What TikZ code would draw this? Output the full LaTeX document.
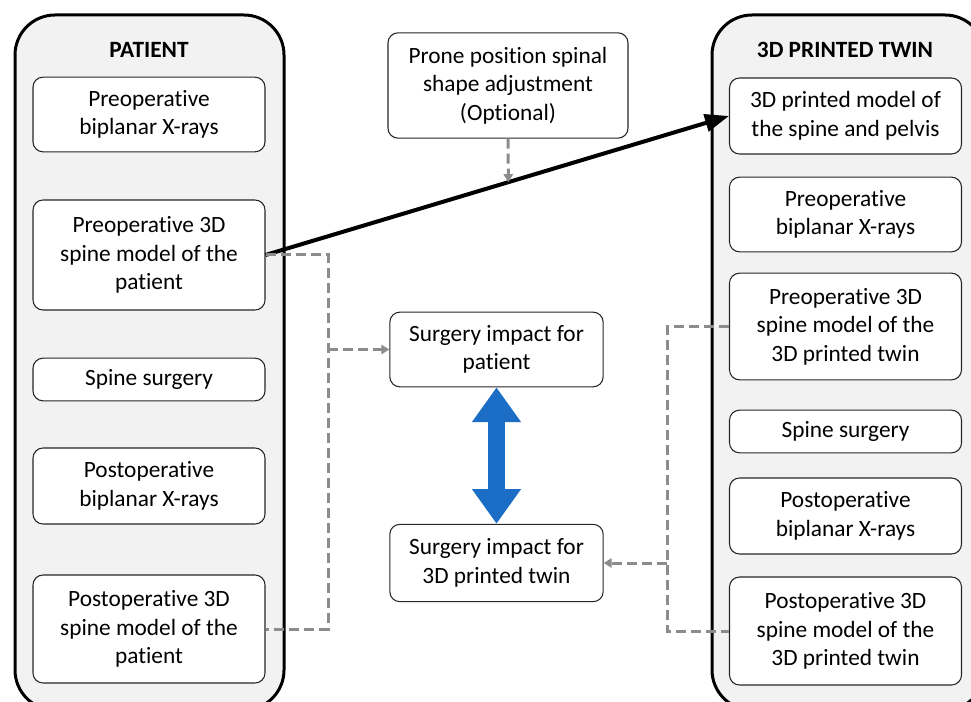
\documentclass[tikz,border=0pt]{standalone}
\usepackage{fontspec}
\setmainfont{Carlito}[Ligatures=NoCommon]
\usepackage{xcolor}
\usetikzlibrary{arrows.meta,positioning,calc}

\definecolor{panelgray}{HTML}{F2F2F2}
\definecolor{linkgray}{HTML}{8C8C8C}
\definecolor{impactblue}{HTML}{1C6DC6}

\tikzset{
  panel/.style={draw,line width=2.25pt,rounded corners=30pt,fill=panelgray},
  paneltitle/.style={font=\fontsize{17.5}{21.4}\selectfont\bfseries},
  stepbox/.style={draw=black!85,line width=0.8pt,rounded corners=7.5pt,fill=white,align=center,inner sep=2pt},
  sidebox/.style={stepbox,minimum width=174pt},
  midbox/.style={stepbox,minimum width=160pt},
  dashline/.style={draw=linkgray,line width=2.25pt,dash pattern=on 7.5pt off 3.75pt},
  dasharrow/.style={dashline,-{Triangle[length=6pt,width=7pt]}},
  bigarrow/.style={line width=3pt,-{Triangle[length=18pt,width=13pt]}},
}

\begin{document}
\begin{tikzpicture}[x=0.75pt,y=-0.75pt,every node/.style={font=\fontsize{17.5}{21.4}\selectfont}]
\clip (0,0) rectangle (971,702);

% Panels
\node[panel,minimum width=201.75pt,minimum height=521.25pt] (patient) at (149.5,362.5) {};
\node[panel,minimum width=204.75pt,minimum height=521.25pt] (twin) at (848.5,362.5) {};
\node[paneltitle] (patienttitle) at (149,50) {PATIENT};
\node[paneltitle] (twintitle) at (845,50) {3D PRINTED TWIN};

% Patient side
\node[sidebox,minimum height=56pt] (prexray) at (149,114.5) {Preoperative\\biplanar X-rays};
\node[sidebox,minimum height=82.5pt] (premodel) at (149,255) {Preoperative 3D\\spine model of the\\patient};
\node[sidebox,minimum height=32pt] (surgery) at (149,379.5) {Spine surgery};
\node[sidebox,minimum height=57pt] (postxray) at (149,486) {Postoperative\\biplanar X-rays};
\node[sidebox,minimum height=81pt] (postmodel) at (149,629) {Postoperative 3D\\spine model of the\\patient};

% Twin side
\node[sidebox,minimum height=57pt] (printed) at (845.5,116) {3D printed model of\\the spine and pelvis};
\node[sidebox,minimum height=56pt] (twinprexray) at (845.5,214.5) {Preoperative\\biplanar X-rays};
\node[sidebox,minimum height=80pt] (twinpremodel) at (845.5,326.5) {Preoperative 3D\\spine model of the\\3D printed twin};
\node[sidebox,minimum height=32pt] (twinsurgery) at (845.5,431.5) {Spine surgery};
\node[sidebox,minimum height=57pt] (twinpostxray) at (845.5,516) {Postoperative\\biplanar X-rays};
\node[sidebox,minimum height=81pt] (twinpostmodel) at (845.5,631) {Postoperative 3D\\spine model of the\\3D printed twin};

% Middle
\node[stepbox,minimum width=180pt,minimum height=79pt] (prone) at (508,85.5) {Prone position spinal\\shape adjustment\\(Optional)};
\node[midbox,minimum height=56pt] (imppatient) at (496.5,349.5) {Surgery impact for\\patient};
\node[midbox,minimum height=58pt] (imptwin) at (496.5,563) {Surgery impact for\\3D printed twin};

% Bus lines
\coordinate (leftbus) at (328,0);
\coordinate (rightbus) at (667,0);

% Connections
\draw[bigarrow] (premodel.east) -- coordinate[pos=0.524] (meet) (printed.west);
\draw[dasharrow] (prone.south) -- (meet);

\draw[dashline] (premodel.east) -- (premodel.east -| leftbus) -- (postmodel.east -| leftbus) -- (postmodel.east);
\draw[dasharrow] (imppatient.west -| leftbus) -- (imppatient.west);

\draw[dashline] (twinpremodel.west) -- (twinpremodel.west -| rightbus) -- (twinpostmodel.west -| rightbus) -- (twinpostmodel.west);
\draw[dasharrow] (imptwin.east -| rightbus) -- (imptwin.east);

\draw[impactblue,line width=12.75pt,{Triangle[length=26pt,width=35pt]}-{Triangle[length=26pt,width=35pt]}] (imppatient) -- (imptwin);

\end{tikzpicture}
\end{document}
